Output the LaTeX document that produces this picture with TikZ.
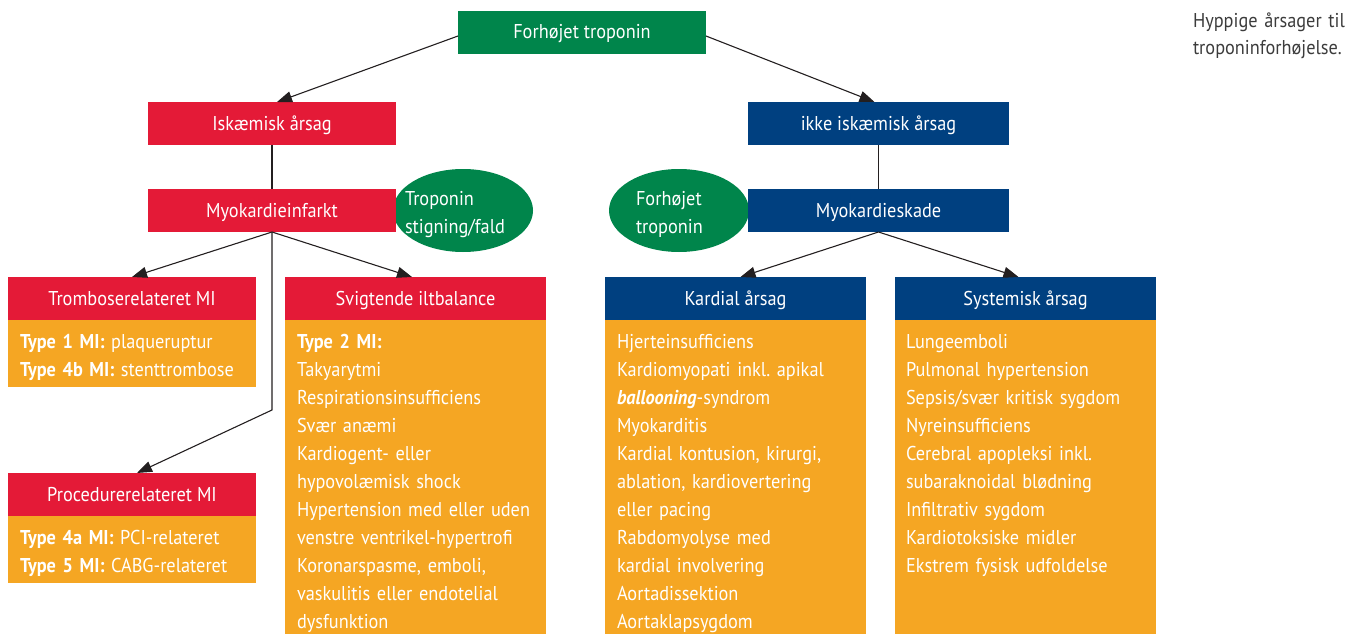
\documentclass[tikz,border=0pt]{standalone}
\usepackage{fontspec}
\setmainfont{PT Sans}[FakeStretch=0.915]
\usetikzlibrary{arrows.meta,shapes.geometric}
\definecolor{cgreen}{RGB}{0,133,75}
\definecolor{cred}{RGB}{228,26,55}
\definecolor{cblue}{RGB}{0,64,128}
\definecolor{corange}{RGB}{245,166,35}
\definecolor{cline}{RGB}{35,31,32}
\definecolor{cnote}{RGB}{60,60,60}
\frenchspacing
\begin{document}
\frenchspacing
\begin{tikzpicture}[x=1pt,y=-1pt,
  every node/.style={inner sep=0pt, outer sep=0pt},
  fnt/.style={font=\fontsize{20}{28}\selectfont\frenchspacing},
  head/.style={fnt, text=white, minimum height=43pt, anchor=north west, text height=14pt, text depth=1pt},
  redhead/.style={head, fill=cred},
  bluehead/.style={head, fill=cblue},
  greenhead/.style={head, fill=cgreen},
  body/.style={fill=corange, anchor=north west},
  btext/.style={fnt, text=white, anchor=north west, align=left, text width=320pt},
  ell/.style={ellipse, fill=cgreen, minimum width=140pt, minimum height=83pt},
  etext/.style={fnt, text=white, align=left},
  conn/.style={draw=cline, line width=1.1pt},
  arr/.style={conn, -{Triangle[length=15pt,width=11pt]}},
  note/.style={font=\fontsize{20}{27}\selectfont, text=cnote, anchor=north west, align=left, text width=200pt}
]
\useasboundingbox (0,0) rectangle (1354,634);

% ellipses (behind boxes)
\node[ell] (e1) at (463,210.5) {};
\node[ell] (e2) at (679,210.5) {};

% top level
\node[greenhead, minimum width=248pt] (top) at (458,11) {Forhøjet troponin};
\node[redhead, minimum width=248pt] (isk) at (148,102) {Iskæmisk årsag};
\node[bluehead, minimum width=261pt] (ikke) at (748,102) {ikke iskæmisk årsag};
\node[redhead, minimum width=248pt] (mi) at (148,189) {Myokardieinfarkt};
\node[bluehead, minimum width=261pt] (msk) at (748,189) {Myokardieskade};

% ellipse texts
\node[etext, text width=116pt] (t1) at (e1.center) {\rule{0pt}{24pt}Troponin\\stigning/fald\rule[-6pt]{0pt}{6pt}};
\node[etext, text width=86pt] (t2) at (e2.center) {\rule{0pt}{24pt}Forhøjet\\troponin\rule[-6pt]{0pt}{6pt}};

% lower heads
\node[redhead, minimum width=248pt] (trombo) at (8,277) {Tromboserelateret MI};
\node[redhead, minimum width=261pt] (svigt) at (285,277) {Svigtende iltbalance};
\node[redhead, minimum width=248pt] (proc) at (8,473) {Procedurerelateret MI};
\node[bluehead, minimum width=261pt] (kard) at (605,277) {Kardial årsag};
\node[bluehead, minimum width=261pt] (syst) at (895,277) {Systemisk årsag};

% bodies
\node[body, minimum width=248pt, minimum height=67pt] (tromboB) at (8,320) {};
\node[body, minimum width=248pt, minimum height=67pt] (procB) at (8,516) {};
\node[body, minimum width=261pt, minimum height=314pt] (svigtB) at (285,320) {};
\node[body, minimum width=261pt, minimum height=314pt] (kardB) at (605,320) {};
\node[body, minimum width=261pt, minimum height=314pt] (systB) at (895,320) {};

\node[btext] (tromboT) at ([xshift=12pt]tromboB.north west) {\rule{0pt}{28pt}\textbf{Type 1 MI:} plaqueruptur\\\textbf{Type 4b MI:} stenttrombose};
\node[btext] (procT) at ([xshift=12pt]procB.north west) {\rule{0pt}{28pt}\textbf{Type 4a MI:} PCI-relateret\\\textbf{Type 5 MI:} CABG-relateret};
\node[btext] (svigtT) at ([xshift=12pt]svigtB.north west) {\rule{0pt}{28pt}\textbf{Type 2 MI:}\\Takyarytmi\\Respirationsinsufficiens\\Svær anæmi\\Kardiogent- eller\\hypovolæmisk shock\\Hypertension med eller uden\\venstre ventrikel-hypertrofi\\Koronarspasme, emboli,\\vaskulitis eller endotelial\\dysfunktion};
\node[btext] (kardT) at ([xshift=12pt]kardB.north west) {\rule{0pt}{28pt}Hjerteinsufficiens\\Kardiomyopati inkl. apikal\\\textbf{\textit{ballooning}}-syndrom\\Myokarditis\\Kardial kontusion, kirurgi,\\ablation, kardiovertering\\eller pacing\\Rabdomyolyse med\\kardial involvering\\Aortadissektion\\Aortaklapsygdom};
\node[btext] (systT) at ([xshift=11pt]systB.north west) {\rule{0pt}{28pt}Lungeemboli\\Pulmonal hypertension\\Sepsis/svær kritisk sygdom\\Nyreinsufficiens\\Cerebral apopleksi inkl.\\subaraknoidal blødning\\Infiltrativ sygdom\\Kardiotoksiske midler\\Ekstrem fysisk udfoldelse};

% note
\node[note] (note) at (1193,2) {\rule{0pt}{26pt}Hyppige årsager til\\troponinforhøjelse.};

% connectors
\draw[arr] ([yshift=-3.5pt]top.west) -- ([xshift=5pt]isk.north);
\draw[arr] ([yshift=-3.5pt]top.east) -- ([xshift=-4pt]ikke.north);
\draw[conn] (isk.south) -- (mi.north);
\draw[conn] (ikke.south) -- (msk.north);
\draw[arr] (mi.south) -- (trombo.north);
\draw[arr] (mi.south) -- ([xshift=-3.5pt]svigt.north);
\draw[arr] (mi.south) -- ++(0,178) -- ([xshift=5pt]proc.north);
\draw[arr] (msk.south) -- ([xshift=5pt]kard.north);
\draw[arr] (msk.south) -- ([xshift=-7pt]syst.north);
\end{tikzpicture}
\end{document}
